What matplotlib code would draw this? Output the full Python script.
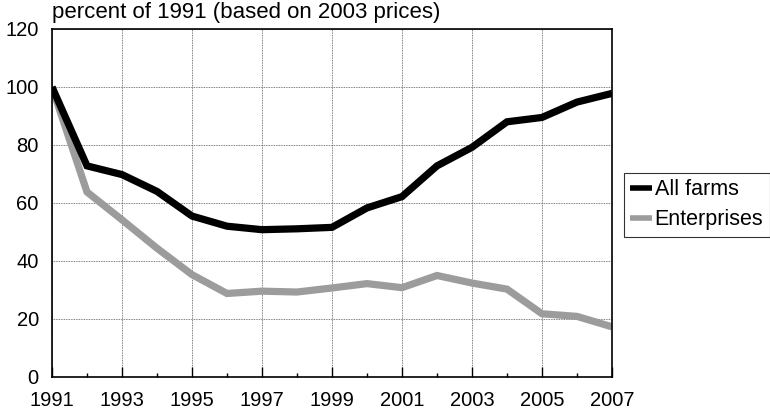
import matplotlib
matplotlib.use('Agg')
import matplotlib.pyplot as plt

plt.rcParams['font.family'] = ['Liberation Sans', 'DejaVu Sans']

years = list(range(1991, 2008))
all_farms = [100, 72.8, 69.8, 64.0, 55.5, 52.0, 50.8, 51.1, 51.6, 58.3,
             62.2, 72.8, 79.2, 88.0, 89.5, 94.8, 97.8]
enterprises = [100, 63.8, 54.2, 44.4, 35.3, 28.8, 29.6, 29.3, 30.7, 32.2,
               30.8, 35.0, 32.4, 30.3, 21.8, 20.9, 17.3]
xticks = years[::2]
xminor = years[1::2]
yticks = [0, 20, 40, 60, 80, 100, 120]
title = 'percent of 1991 (based on 2003 prices)'

fig = plt.figure(figsize=(7.7, 4.13), dpi=100)
ax = fig.add_axes([52 / 770, 1 - 377 / 413, (612 - 52) / 770, (377 - 29) / 413])

ax.plot(years, all_farms, color='black', lw=5.2, label='All farms',
        solid_joinstyle='miter', solid_capstyle='butt', zorder=3)
ax.plot(years, enterprises, color='#9c9c9c', lw=5.2, label='Enterprises',
        solid_joinstyle='miter', solid_capstyle='butt', zorder=2)

ax.set_xlim(1991, 2007)
ax.set_ylim(0, 120)
ax.set_yticks(yticks)
ax.set_xticks(xticks)
ax.set_xticks(xminor, minor=True)
ax.grid(True, which='major', color='#555555', ls=(0, (1, 1)), lw=0.6)
ax.tick_params(axis='x', which='major', direction='in', length=7, width=1,
               pad=10, labelsize=14.5)
ax.tick_params(axis='x', which='minor', direction='in', length=3, width=1)
ax.tick_params(axis='y', direction='in', length=0, pad=9.5, labelsize=14.5)
for s in ax.spines.values():
    s.set_linewidth(1.2)
    s.set_color('black')

fig.text(52 / 770, 1 - 18 / 413, title, fontsize=16, va='baseline', ha='left')

leg = fig.legend(loc='upper left', bbox_to_anchor=(624 / 770, 1 - 173 / 413),
                 fontsize=15.5, frameon=True, fancybox=False, handlelength=1.0,
                 handletextpad=0.12, borderpad=0.3, labelspacing=0.4,
                 borderaxespad=0)
leg.get_frame().set_edgecolor('black')
leg.get_frame().set_linewidth(0.8)
for line in leg.get_lines():
    line.set_linewidth(4)

fig.savefig('out.png', dpi=100)
